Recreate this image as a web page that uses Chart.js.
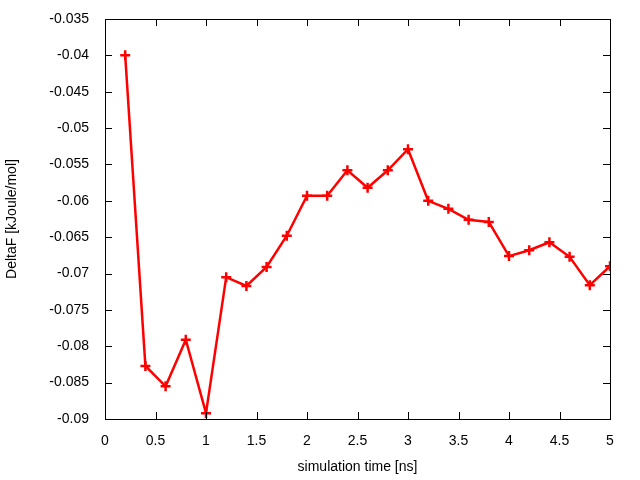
<!DOCTYPE html>
<html>
<head>
<meta charset="utf-8">
<script src="https://cdn.jsdelivr.net/npm/chart.js@4"></script>
<style>
  body { margin: 0; background: #fff; }
  #wrap { width: 640px; height: 480px; }
</style>
</head>
<body>
<div id="wrap"><canvas id="chart"></canvas></div>
<script>
// simulation time (ns) and free energy difference
const times = [0.2, 0.4, 0.6, 0.8, 1.0, 1.2, 1.4, 1.6, 1.8, 2.0, 2.2, 2.4, 2.6,
               2.8, 3.0, 3.2, 3.4, 3.6, 3.8, 4.0, 4.2, 4.4, 4.6, 4.8, 5.0];
const deltaF = [-0.0400, -0.0827, -0.0855, -0.0791, -0.0892, -0.0705, -0.0717,
                -0.0691, -0.0648, -0.0593, -0.0593, -0.0558, -0.0582, -0.0558,
                -0.0529, -0.0600, -0.0611, -0.0626, -0.0629, -0.0676, -0.0668,
                -0.0657, -0.0677, -0.0716, -0.0690];

// gnuplot style: box border + inward ticks on all four sides
const gnuFrame = {
  id: 'gnuFrame',
  afterDraw(chart) {
    const { ctx, chartArea: a, scales } = chart;
    ctx.save();
    ctx.strokeStyle = '#000';
    ctx.lineWidth = 1;
    ctx.strokeRect(a.left + 0.5, a.top + 0.5, a.right - a.left, a.bottom - a.top);
    ctx.beginPath();
    scales.x.ticks.forEach(t => {
      const px = Math.round(scales.x.getPixelForValue(t.value)) + 0.5;
      ctx.moveTo(px, a.bottom); ctx.lineTo(px, a.bottom - 7);
      ctx.moveTo(px, a.top); ctx.lineTo(px, a.top + 7);
    });
    scales.y.ticks.forEach(t => {
      const py = Math.round(scales.y.getPixelForValue(t.value)) + 0.5;
      ctx.moveTo(a.left, py); ctx.lineTo(a.left + 7, py);
      ctx.moveTo(a.right, py); ctx.lineTo(a.right - 7, py);
    });
    ctx.stroke();
    ctx.restore();
  }
};

Chart.defaults.font.family = '"Liberation Sans", Arial, sans-serif';
Chart.defaults.font.size = 14;
Chart.defaults.color = '#000';

const fmt = v => String(parseFloat(v.toFixed(3)));

new Chart(document.getElementById('chart'), {
  type: 'line',
  data: {
    datasets: [{
      data: times.map((t, i) => ({ x: t, y: deltaF[i] })),
      borderColor: '#ff0000',
      backgroundColor: '#ff0000',
      borderWidth: 2.5,
      pointStyle: 'cross',
      pointRadius: 5,
      pointBorderWidth: 2.5,
      tension: 0
    }]
  },
  options: {
    responsive: true,
    maintainAspectRatio: false,
    animation: false,
    layout: { padding: { top: 19, right: 30, left: 0, bottom: 0 } },
    plugins: { legend: { display: false }, tooltip: { enabled: false } },
    scales: {
      x: {
        type: 'linear', min: 0, max: 5,
        ticks: { stepSize: 0.5, padding: 6, callback: fmt },
        grid: { display: false },
        border: { display: false },
        title: { display: true, text: 'simulation time [ns]', padding: { top: 2 } },
        afterFit(s) { s.height = 61; }
      },
      y: {
        min: -0.09, max: -0.035,
        ticks: { stepSize: 0.005, padding: 8, callback: fmt },
        grid: { display: false },
        border: { display: false },
        title: { display: true, text: 'DeltaF [kJoule/mol]', padding: { bottom: 0 } },
        afterFit(s) { s.width = 105; }
      }
    }
  },
  plugins: [gnuFrame]
});
</script>
</body>
</html>
